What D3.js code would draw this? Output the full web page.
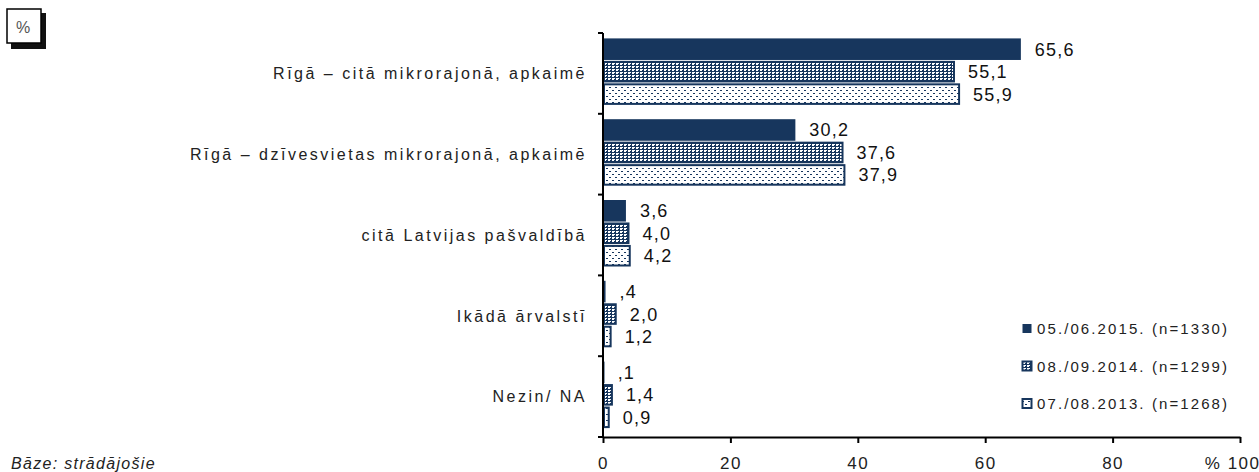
<script src="https://cdn.jsdelivr.net/npm/d3@7"></script>
<style>
  body { margin: 0; background: #fff; }
  text { font-family: "Liberation Sans", Arial, sans-serif; }
</style>
<div id="chart"></div>
<script>
const categories = ["Rīgā – citā mikrorajonā, apkaimē", "Rīgā – dzīvesvietas mikrorajonā, apkaimē",
  "citā Latvijas pašvaldībā", "Ikādā ārvalstī", "Nezin/ NA"];
const seriesNames = ["05./06.2015. (n=1330)", "08./09.2014. (n=1299)", "07./08.2013. (n=1268)"];
const values2015 = [65.6, 30.2, 3.6, 0.4, 0.1];
const values2014 = [55.1, 37.6, 4.0, 2.0, 1.4];
const values2013 = [55.9, 37.9, 4.2, 1.2, 0.9];
const xTicks = [0, 20, 40, 60, 80, 100];

var W = 1259, H = 472;
var margin = {top: 33, right: 19, bottom: 35, left: 603};
var width = W - margin.left - margin.right,
    height = H - margin.top - margin.bottom;
var navy = "#17365d";

var svg = d3.select("#chart").append("svg")
  .attr("width", W).attr("height", H);

var defs = svg.append("defs");
// dense pattern (2014)
var p1 = defs.append("pattern").attr("id", "pat14")
  .attr("patternUnits", "userSpaceOnUse").attr("width", 4).attr("height", 3);
p1.append("rect").attr("width", 4).attr("height", 3).attr("fill", navy);
p1.append("rect").attr("x", 1).attr("y", 1).attr("width", 2).attr("height", 1).attr("fill", "#fff");
p1.append("rect").attr("x", 0).attr("y", 0).attr("width", 4).attr("height", 1).attr("fill", "#fff");
p1.append("rect").attr("x", 0).attr("y", 0).attr("width", 1).attr("height", 1).attr("fill", navy);
// sparse pattern (2013)
var p2 = defs.append("pattern").attr("id", "pat13")
  .attr("patternUnits", "userSpaceOnUse").attr("width", 6).attr("height", 6);
p2.append("rect").attr("width", 6).attr("height", 6).attr("fill", "#fff");
p2.append("rect").attr("width", 2).attr("height", 1).attr("fill", navy);
p2.append("rect").attr("x", 3).attr("y", 3).attr("width", 2).attr("height", 1).attr("fill", navy);

var fills = [navy, "url(#pat14)", "url(#pat13)"];
var series = [values2015, values2014, values2013];

var g = svg.append("g").attr("transform", "translate(" + margin.left + "," + margin.top + ")");

var x = d3.scaleLinear().domain([0, 100]).range([0, width]);
var y0 = d3.scaleBand().domain(categories).range([0, height]).padding(0);
var y1 = d3.scaleBand().domain([0, 1, 2]).range([4.5, y0.bandwidth() - 8]).padding(0.04);

var fmt = function(v, s) {
  var t = d3.format(".1f")(v).replace(".", ",");
  if (s === 0 && v < 1) t = t.replace(/^0/, "");
  return t;
};

categories.forEach(function(c, ci) {
  series.forEach(function(vals, si) {
    var v = vals[ci];
    var yy = y0(c) + y1(si);
    g.append("rect")
      .attr("x", x(0) + (si ? 1 : 0))
      .attr("y", yy + (si ? 1 : 0))
      .attr("width", Math.max(x(v) - x(0) - (si ? 1 : 0), si ? 1 : 1.5))
      .attr("height", y1.bandwidth() - (si ? 2 : 0))
      .attr("fill", fills[si])
      .attr("stroke", si ? navy : "none")
      .attr("stroke-width", si ? 2 : 0);
    g.append("text")
      .attr("x", x(v) + 14)
      .attr("y", yy + y1.bandwidth() / 2)
      .attr("dy", "0.36em")
      .attr("font-size", 18)
      .attr("letter-spacing", 1.2)
      .attr("fill", "#111")
      .text(fmt(v, si));
  });
});

// y axis
var yAxis = g.append("g");
yAxis.append("line").attr("x1", 0).attr("x2", 0).attr("y1", 0).attr("y2", height)
  .attr("stroke", "#000").attr("stroke-width", 2);
var bounds = [0].concat(categories.map(function(c) { return y0(c) + y0.bandwidth(); }));
bounds.forEach(function(b) {
  yAxis.append("line").attr("x1", -5).attr("x2", 0).attr("y1", b).attr("y2", b)
    .attr("stroke", "#000").attr("stroke-width", 2);
});
categories.forEach(function(c) {
  g.append("text")
    .attr("x", -16)
    .attr("y", y0(c) + y0.bandwidth() / 2)
    .attr("dy", "0.36em")
    .attr("text-anchor", "end")
    .attr("font-size", 16)
    .attr("letter-spacing", 2.5)
    .attr("fill", "#222")
    .text(c);
});

// x axis
var xAxis = g.append("g").attr("transform", "translate(0," + height + ")")
  .call(d3.axisBottom(x).tickValues(xTicks).tickSize(6).tickSizeOuter(0)
    .tickFormat(function(d) { return d === 100 ? "% 100" : d; }));
xAxis.select(".domain").attr("stroke-width", 2);
xAxis.selectAll(".tick line").attr("stroke-width", 2);
xAxis.selectAll(".tick text").attr("font-size", 17).attr("letter-spacing", 1.5).attr("dy", "1.35em")
  .attr("font-family", "Liberation Sans, Arial, sans-serif").attr("fill", "#222");
xAxis.selectAll(".tick text").filter(function(d) { return d === 100; }).attr("text-anchor", "end").attr("dx", 20);

// legend
var legend = svg.append("g").attr("transform", "translate(1022,329)");
seriesNames.forEach(function(n, i) {
  var ly = i * 37.5;
  legend.append("rect").attr("x", 0.5).attr("y", ly - 5).attr("width", 9).attr("height", 9)
    .attr("fill", fills[i]).attr("stroke", navy).attr("stroke-width", i ? 2 : 0);
  legend.append("text").attr("x", 15).attr("y", ly).attr("dy", "0.36em")
    .attr("font-size", 15).attr("letter-spacing", 2.1).attr("fill", "#222").text(n);
});

// % box
svg.append("rect").attr("x", 11).attr("y", 13).attr("width", 35).attr("height", 36).attr("fill", "#111");
svg.append("rect").attr("x", 7).attr("y", 9).attr("width", 34).attr("height", 34)
  .attr("fill", "#fff").attr("stroke", "#000").attr("stroke-width", 1.5);
svg.append("text").attr("x", 23).attr("y", 27).attr("dy", "0.36em").attr("text-anchor", "middle")
  .attr("font-size", 16).attr("fill", "#555").text("%");

svg.append("text").attr("x", 11).attr("y", 463).attr("dy", "0.36em")
  .attr("font-size", 16).attr("letter-spacing", 1.3).attr("font-style", "italic").attr("fill", "#222").text("Bāze: strādājošie");
</script>
